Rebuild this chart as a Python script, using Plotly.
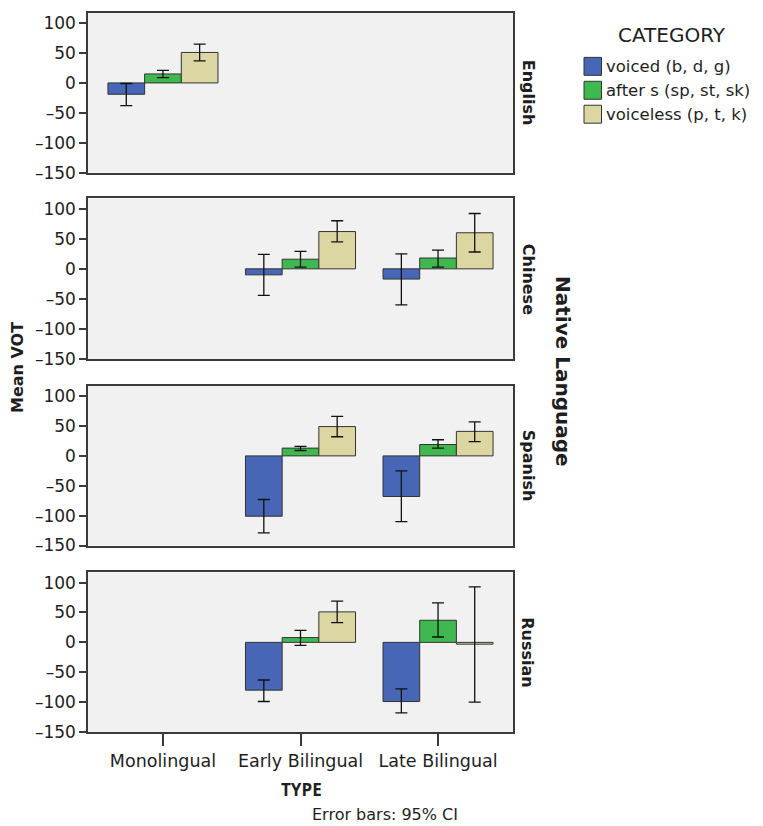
import plotly.graph_objects as go

types = ["Monolingual", "Early Bilingual", "Late Bilingual"]
languages = ["English", "Chinese", "Spanish", "Russian"]
categories = ["voiced (b, d, g)", "after s (sp, st, sk)", "voiceless (p, t, k)"]
colors = ["#4766b5", "#3fb94f", "#dcd6a2"]

# rows = languages, columns = types
voiced_mean = [[-19, None, None], [None, -10, -17], [None, -101, -68], [None, -80, -99]]
voiced_lo = [[-38, None, None], [None, -44, -60], [None, -129, -110], [None, -99, -118]]
voiced_hi = [[-1, None, None], [None, 24, 25], [None, -73, -25], [None, -63, -78]]

after_mean = [[15, None, None], [None, 16, 18], [None, 13, 19], [None, 8, 37]]
after_lo = [[9, None, None], [None, 3, 3], [None, 9, 13], [None, -5, 9]]
after_hi = [[21, None, None], [None, 29, 31], [None, 16, 27], [None, 20, 66]]

voiceless_mean = [[51, None, None], [None, 62, 60], [None, 49, 41], [None, 51, -3]]
voiceless_lo = [[37, None, None], [None, 45, 28], [None, 32, 24], [None, 33, -100]]
voiceless_hi = [[65, None, None], [None, 80, 92], [None, 66, 57], [None, 69, 93]]

y_ticks = [-150, -100, -50, 0, 50, 100]
y_ticktext = ["–150", "–100", "–50", "0", "50", "100"]

series = [
    (voiced_mean, voiced_lo, voiced_hi),
    (after_mean, after_lo, after_hi),
    (voiceless_mean, voiceless_lo, voiceless_hi),
]

W, H = 763, 826
ml, mr, mt, mb = 88, 250, 11, 94
plot_w = W - ml - mr
plot_h = H - mt - mb
panel_px = [(11, 171), (197, 358), (385, 545), (572, 732)]
bottom_px = H - mb


def py(px):
    return (bottom_px - px) / plot_h


def px_x(px):
    return (px - ml) / plot_w


FONT = "DejaVu Sans, sans-serif"
TXT = "#1e1e1e"
AX = "#3a3a3a"

fig = go.Figure()

for li, lang in enumerate(languages):
    axn = "" if li == 0 else str(li + 1)
    for ci, cat in enumerate(categories):
        mean, lo, hi = series[ci]
        m = mean[li]
        up = [None if v is None else hi[li][k] - v for k, v in enumerate(m)]
        dn = [None if v is None else v - lo[li][k] for k, v in enumerate(m)]
        fig.add_trace(go.Bar(
            x=types, y=m, name=cat, showlegend=False,
            marker=dict(color=colors[ci], line=dict(color="#333333", width=1)),
            error_y=dict(type="data", symmetric=False, array=up, arrayminus=dn,
                         color="#111111", thickness=1.3, width=6),
            xaxis="x" + axn, yaxis="y" + axn,
        ))
    top, bot = panel_px[li]
    yax = dict(
        domain=[py(bot), py(top)], range=[-150, 117],
        tickvals=y_ticks, ticktext=y_ticktext,
        ticks="outside", ticklen=7, tickcolor=AX, tickwidth=1.5,
        showline=True, linecolor=AX, linewidth=1.5, mirror=True,
        showgrid=False, zeroline=False,
        tickfont=dict(family=FONT, size=17, color=TXT),
        anchor="x" + axn,
    )
    xax = dict(
        domain=[0, 1], range=[-0.545, 2.545], type="category",
        categoryarray=types, categoryorder="array",
        showline=True, linecolor=AX, linewidth=1.5, mirror=True,
        showgrid=False, zeroline=False,
        anchor="y" + axn,
        showticklabels=(li == 3),
        ticks="outside" if li == 3 else "", ticklen=12, tickcolor=AX, tickwidth=1.5,
        tickfont=dict(family=FONT, size=17.5, color=TXT),
    )
    if li > 0:
        xax["matches"] = "x"
    fig.update_layout(**{"yaxis" + axn: yax, "xaxis" + axn: xax})
    fig.add_annotation(
        x=px_x(528), xref="paper", y=py((top + bot) / 2), yref="paper",
        text="<b>" + lang + "</b>", textangle=90, showarrow=False,
        font=dict(family=FONT, size=16, color=TXT), xanchor="center", yanchor="middle",
    )

annotations = [
    dict(x=px_x(563), y=py(370), text="<b>Native Language</b>", textangle=90,
         font=dict(family=FONT, size=20, color=TXT)),
    dict(x=px_x(17), y=py(367), text="<b>Mean VOT</b>", textangle=-90,
         font=dict(family=FONT, size=16, color=TXT)),
    dict(x=px_x(301), y=py(790), text="<b>TYPE</b>",
         font=dict(family="Open Sans, sans-serif", size=17, color=TXT)),
    dict(x=px_x(385), y=py(815), text="Error bars: 95% CI",
         font=dict(family=FONT, size=16, color=TXT)),
    dict(x=px_x(672), y=py(33), text="CATEGORY",
         font=dict(family=FONT, size=20, color=TXT)),
]
for a in annotations:
    fig.add_annotation(xref="paper", yref="paper", showarrow=False,
                       xanchor="center", yanchor="middle", **a)

# manual legend
legend_rows = [64.5, 88.5, 112.5]
for ci, cat in enumerate(categories):
    yc = legend_rows[ci]
    fig.add_shape(type="rect", xref="paper", yref="paper",
                  x0=px_x(584), x1=px_x(601.5), y0=py(yc + 9), y1=py(yc - 9),
                  fillcolor=colors[ci], line=dict(color="#333333", width=1))
    fig.add_annotation(xref="paper", yref="paper", x=px_x(604), y=py(yc),
                       text=cat, showarrow=False, xanchor="left", yanchor="middle",
                       font=dict(family=FONT, size=16.5, color=TXT))

fig.update_layout(
    width=W, height=H,
    margin=dict(l=ml, r=mr, t=mt, b=mb),
    barmode="group", bargap=0.2, bargroupgap=0,
    plot_bgcolor="#f1f1f1", paper_bgcolor="white",
    showlegend=False,
    font=dict(family=FONT),
)

fig.write_html("out.html")
